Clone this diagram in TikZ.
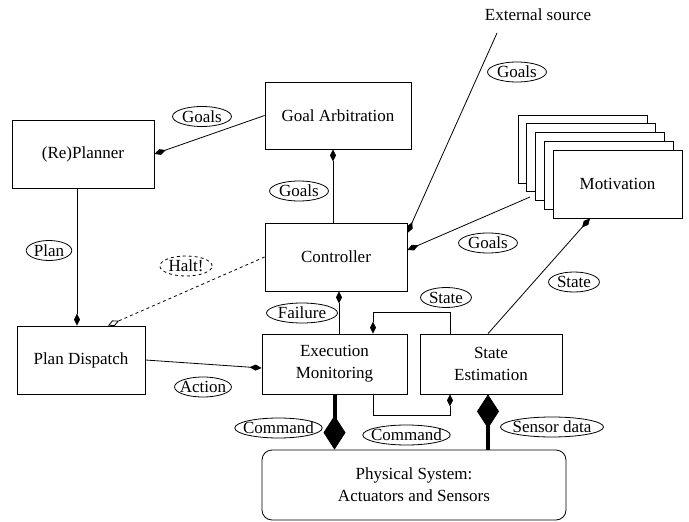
\documentclass[tikz,border=0pt]{standalone}
\usepackage{fontspec}
\setmainfont{Liberation Serif}
\usetikzlibrary{arrows.meta, shapes.geometric}

\begin{document}
\begin{tikzpicture}[x=1pt, y=-1pt, line width=0.8pt,
  every node/.style={font=\fontsize{17}{22}\selectfont},
  box/.style={draw, rectangle, align=center, inner sep=0pt},
  lbl/.style={draw, ellipse, inner xsep=1pt, inner ysep=0pt, minimum height=20pt},
  flow/.style={-{Diamond[length=12pt, width=6pt, line width=0.8pt]}},
  halt/.style={dashed, -{Diamond[open, length=12pt, width=6pt, line width=0.8pt]}},
  bus/.style={line width=4pt, -{Diamond[length=34pt, width=22pt, line width=0.8pt]}}]
  \useasboundingbox (0,0) rectangle (689,522);

  % boxes
  \node[box, minimum width=142pt, minimum height=68pt] (planner) at (83,154) {(Re)Planner};
  \node[box, minimum width=146pt, minimum height=67pt] (arb) at (338,115.5) {Goal Arbitration};
  \node[box, minimum width=142pt, minimum height=68pt] (ctrl) at (336,257) {Controller};
  \node[box, minimum width=128pt, minimum height=68pt] (dispatch) at (81,360) {Plan Dispatch};
  \node[box, minimum width=145pt, minimum height=60pt] (exec) at (334.5,364) {Execution\\Monitoring};
  \node[box, minimum width=142pt, minimum height=60pt] (est) at (491,364) {State\\Estimation};
  \node[box, rounded corners=10pt, minimum width=304pt, minimum height=70pt] (phys) at (414,485) {Physical System:\\Actuators and Sensors};

  % stack of motivations
  \foreach \k in {4,3,2,1}
    \draw[fill=white] ({553-8.75*\k},{150-8.75*\k}) rectangle ++(129,68);
  \node[box, fill=white, minimum width=129pt, minimum height=68pt] (mot) at (617.5,184) {Motivation};

  \node (ext) at (538,15) {External source};
  \coordinate (ext tail) at (497,33);
  \coordinate (mot tail) at (530,197);

  % connectors
  \draw[flow] (arb.west) -- (planner.east);
  \draw[flow] ([xshift=-3pt]ctrl.north) -- ([xshift=-3pt]ctrl.north |- arb.south);
  \draw[flow] ([xshift=-6pt]planner.south) -- ([xshift=-6pt]planner.south |- dispatch.north);
  \draw[halt] (ctrl.west) -- ([xshift=27pt]dispatch.north);
  \draw[flow] (dispatch.east) -- ([yshift=-4pt]exec.west);
  \draw[flow] ([xshift=4.5pt]exec.north) -- ([xshift=4.5pt]exec.north |- ctrl.south);
  \draw[flow] ([xshift=-41pt]est.north) -- ++(0,-21) -| ([xshift=38.5pt]exec.north);
  \draw[flow] ([xshift=38.5pt]exec.south) -- ++(0,21) -| ([xshift=-41pt]est.south);
  \draw[bus] (exec.south) -- (exec.south |- phys.north);
  \draw[bus] ([xshift=-3pt]est.south |- phys.north) -- ([xshift=-3pt]est.south);
  \draw[flow] (ext tail) -- ([yshift=24pt]ctrl.east);
  \draw[flow] (mot tail) -- ([yshift=7pt]ctrl.east);
  \draw[flow] ([xshift=-3pt]est.north) -- ([xshift=-27.5pt]mot.south);

  % labels
  \node[lbl] (goals arb) at (202,116.5) {Goals};
  \node[lbl] (goals ctrl) at (299,191) {Goals};
  \node[lbl] (goals ext) at (517,72) {Goals};
  \node[lbl] (goals mot) at (488,243) {Goals};
  \node[lbl] (plan) at (49,250.5) {Plan};
  \node[lbl, dashed] (halt) at (186,266) {Halt!};
  \node[lbl] (failure) at (302,313) {Failure};
  \node[lbl] (state loop) at (446,297.5) {State};
  \node[lbl] (state mot) at (574,282) {State};
  \node[lbl, inner xsep=-3pt] (action) at (203,387) {Action};
  \node[lbl, inner xsep=-4.5pt] (cmd phys) at (278.5,428) {Command};
  \node[lbl, inner xsep=-4.5pt] (cmd loop) at (406.5,435) {Command};
  \node[lbl, inner xsep=-3pt] (sensor) at (552,427) {Sensor data};
\end{tikzpicture}
\end{document}
